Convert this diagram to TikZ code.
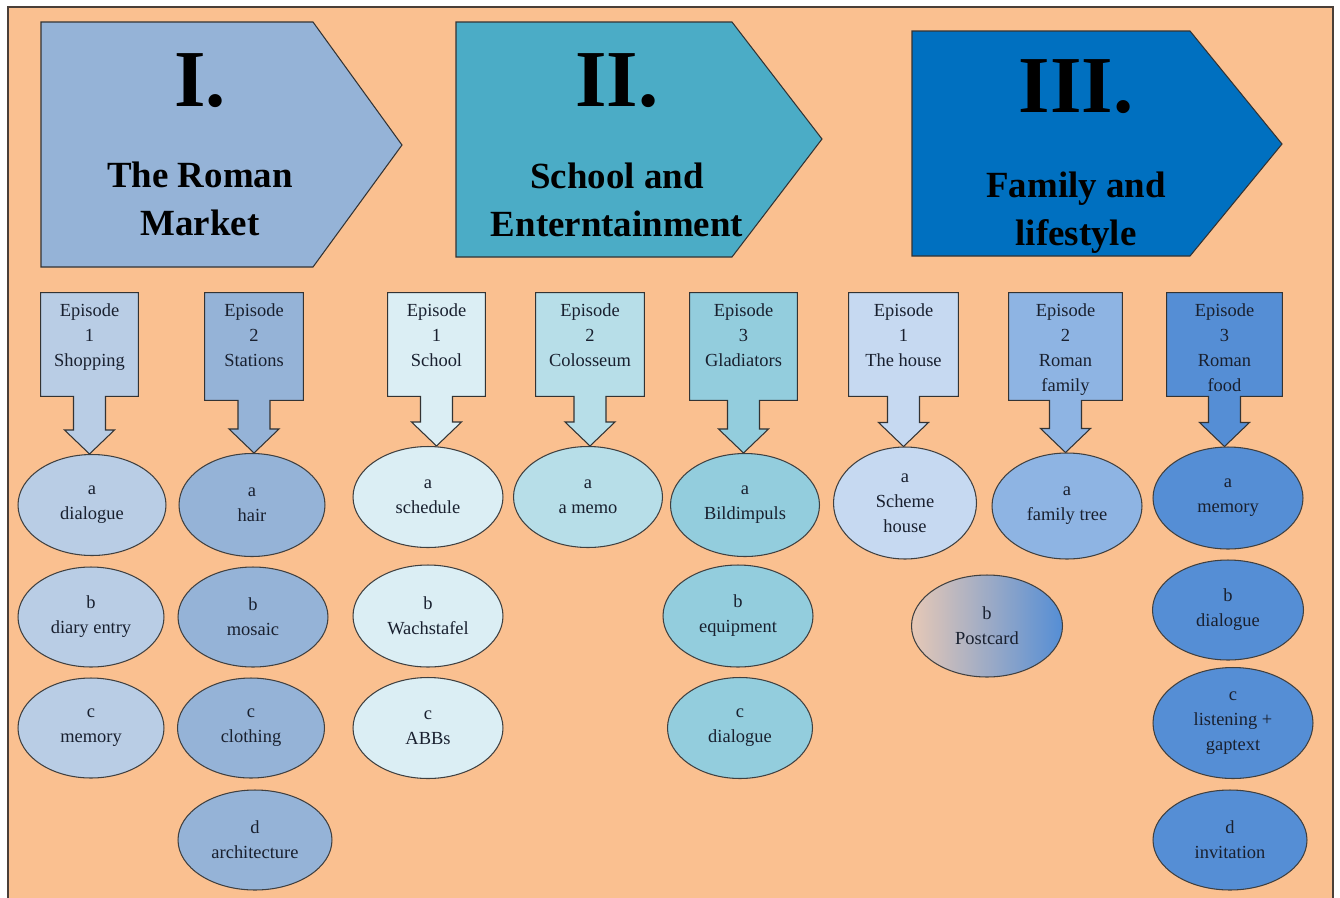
\documentclass[tikz,border=0pt]{standalone}
\usepackage{fontspec}
\setmainfont{Liberation Serif}
\usepackage{tikz}
\usetikzlibrary{positioning,calc,shapes.geometric}

\definecolor{peach}{HTML}{FAC090}
\definecolor{frame}{HTML}{4A3F38}
\definecolor{ink}{HTML}{19202F}
\definecolor{mktA}{HTML}{95B3D7}
\definecolor{schA}{HTML}{4BACC6}
\definecolor{famA}{HTML}{0070C0}
\definecolor{mkt1}{HTML}{B9CDE5}
\definecolor{mkt2}{HTML}{95B3D7}
\definecolor{sch1}{HTML}{DBEEF4}
\definecolor{sch2}{HTML}{B7DEE8}
\definecolor{sch3}{HTML}{93CDDD}
\definecolor{fam1}{HTML}{C6D9F1}
\definecolor{fam2}{HTML}{8EB4E3}
\definecolor{fam3}{HTML}{558ED5}
\definecolor{card}{HTML}{E6C8B6}

\pgfdeclarelayer{bg}
\pgfsetlayers{bg,main}

\tikzset{
  unit/.style={draw=black!80, line width=0.6pt},
  task/.style={ellipse, draw=black!75, line width=0.6pt, inner sep=0pt,
    text=ink, align=center, font=\fontsize{10.5}{14.2}\selectfont},
  epbox/.style={rectangle, inner sep=0pt},
  eptext/.style={text=ink, align=center, inner sep=0pt,
    font=\fontsize{10.5}{14.2}\selectfont},
  numeral/.style={font=\fontsize{46}{46}\bfseries\selectfont},
  topic/.style={align=center, font=\fontsize{21}{27.4}\bfseries\selectfont}
}

\begin{document}
\begin{tikzpicture}[x=0.02cm, y=-0.02cm]
    \useasboundingbox (0,0) rectangle (1340,897);
    % page background
    \begin{pgfonlayer}{bg}
      \fill[white] (0,0) rectangle (1340,897);
      \draw[fill=peach, draw=frame, line width=0.8pt] (8,7) rectangle (1333,905);
    \end{pgfonlayer}

    % the three units
    \draw[unit, fill=mktA] (41,22) -- (313,22) -- (402,145) -- (313,267) -- (41,267) -- cycle;
    \node[numeral] (numI) at (200,81) {I.};
    \node[topic] (topicI) at (200,199) {The Roman\\Market};

    \draw[unit, fill=schA] (456,22) -- (732,22) -- (822,139) -- (732,257) -- (456,257) -- cycle;
    \node[numeral] (numII) at (617,81) {II.};
    \node[topic] (topicII) at (617,200) {School and\\Enterntainment};

    \draw[unit, fill=famA] (912,31) -- (1190,31) -- (1282,144) -- (1190,256) -- (912,256) -- cycle;
    \node[numeral] (numIII) at (1076,87) {III.};
    \node[topic] (topicIII) at (1076,213) {Family and\\lifestyle};

    % episode boxes
    \node[epbox, minimum width=1.94cm, minimum height=2.06cm] (ep1) at (89.5,344.5) {};
    \node[epbox, minimum width=1.96cm, minimum height=2.14cm] (ep2) at (254,346.5) {};
    \node[epbox, minimum width=1.94cm, minimum height=2.06cm] (ep3) at (436.5,344.5) {};
    \node[epbox, minimum width=2.16cm, minimum height=2.06cm] (ep4) at (590,344.5) {};
    \node[epbox, minimum width=2.14cm, minimum height=2.14cm] (ep5) at (743.5,346.5) {};
    \node[epbox, minimum width=2.18cm, minimum height=2.06cm] (ep6) at (903.5,344.5) {};
    \node[epbox, minimum width=2.26cm, minimum height=2.14cm] (ep7) at (1065.5,346.5) {};
    \node[epbox, minimum width=2.30cm, minimum height=2.06cm] (ep8) at (1224.5,344.5) {};

    \node[eptext, below=0.22cm of ep1.north] (ep1t) {Episode\\1\\Shopping};
    \node[eptext, below=0.22cm of ep2.north] (ep2t) {Episode\\2\\Stations};
    \node[eptext, below=0.22cm of ep3.north] (ep3t) {Episode\\1\\School};
    \node[eptext, below=0.22cm of ep4.north] (ep4t) {Episode\\2\\Colosseum};
    \node[eptext, below=0.22cm of ep5.north] (ep5t) {Episode\\3\\Gladiators};
    \node[eptext, below=0.22cm of ep6.north] (ep6t) {Episode\\1\\The house};
    \node[eptext, below=0.22cm of ep7.north] (ep7t) {Episode\\2\\Roman\\family};
    \node[eptext, below=0.22cm of ep8.north] (ep8t) {Episode\\3\\Roman\\food};

    % tasks, unit I
    \node[task, fill=mkt1, minimum width=2.96cm, minimum height=2.02cm] (shop-a) at (92,505) {a\\dialogue};
    \node[task, fill=mkt1, minimum width=2.92cm, minimum height=2.00cm] (shop-b) at (91,617) {b\\diary entry};
    \node[task, fill=mkt1, minimum width=2.92cm, minimum height=2.00cm] (shop-c) at (91,728) {c\\memory};
    \node[task, fill=mkt2, minimum width=2.92cm, minimum height=2.06cm] (stat-a) at (252,505) {a\\hair};
    \node[task, fill=mkt2, minimum width=3.00cm, minimum height=2.00cm] (stat-b) at (253,617) {b\\mosaic};
    \node[task, fill=mkt2, minimum width=2.94cm, minimum height=2.00cm] (stat-c) at (251,728) {c\\clothing};
    \node[task, fill=mkt2, minimum width=3.08cm, minimum height=2.00cm] (stat-d) at (255,840) {d\\architecture};

    % tasks, unit II
    \node[task, fill=sch1, minimum width=3.00cm, minimum height=2.02cm] (schl-a) at (428,497) {a\\schedule};
    \node[task, fill=sch1, minimum width=3.00cm, minimum height=2.04cm] (schl-b) at (428,616) {b\\Wachstafel};
    \node[task, fill=sch1, minimum width=3.00cm, minimum height=2.02cm] (schl-c) at (428,728) {c\\ABBs};
    \node[task, fill=sch2, minimum width=2.98cm, minimum height=2.02cm] (colo-a) at (588,497) {a\\a memo};
    \node[task, fill=sch3, minimum width=2.98cm, minimum height=2.06cm] (glad-a) at (745,505) {a\\Bildimpuls};
    \node[task, fill=sch3, minimum width=3.00cm, minimum height=2.04cm] (glad-b) at (738,616) {b\\equipment};
    \node[task, fill=sch3, minimum width=2.90cm, minimum height=2.02cm] (glad-c) at (740,728) {c\\dialogue};

    % tasks, unit III
    \node[task, fill=fam1, minimum width=2.86cm, minimum height=2.24cm] (house-a) at (905,503) {a\\Scheme\\house};
    \node[task, left color=card, middle color=fam1!70!card, right color=fam3,
          minimum width=3.02cm, minimum height=2.04cm] (house-b) at (987,626) {b\\Postcard};
    \node[task, fill=fam2, minimum width=3.00cm, minimum height=2.12cm] (fmly-a) at (1067,506) {a\\family tree};
    \node[task, fill=fam3, minimum width=3.00cm, minimum height=2.04cm] (food-a) at (1228,498) {a\\memory};
    \node[task, fill=fam3, minimum width=3.02cm, minimum height=2.00cm] (food-b) at (1228,610) {b\\dialogue};
    \node[task, fill=fam3, minimum width=3.20cm, minimum height=2.22cm] (food-c) at (1233,723) {c\\listening +\\gaptext};
    \node[task, fill=fam3, minimum width=3.08cm, minimum height=2.00cm] (food-d) at (1230,840) {d\\invitation};

    % callout outlines, box plus arrow down to the first task
    \begin{pgfonlayer}{bg}
    \foreach \b/\e/\c in {ep1/shop-a/mkt1, ep2/stat-a/mkt2, ep3/schl-a/sch1, ep4/colo-a/sch2,
                          ep5/glad-a/sch3, ep6/house-a/fam1, ep7/fmly-a/fam2, ep8/food-a/fam3}
      \draw[unit, fill=\c] (\b.north west) -- (\b.north east) -- (\b.south east)
        -- ($(\b.south)+(16,0)$) -- ($(\b.south |- \e.north)+(16,-24)$)
        -- ($(\b.south |- \e.north)+(25,-24)$) -- (\b.south |- \e.north)
        -- ($(\b.south |- \e.north)+(-25,-24)$) -- ($(\b.south |- \e.north)+(-16,-24)$)
        -- ($(\b.south)+(-16,0)$) -- (\b.south west) -- cycle;
    \end{pgfonlayer}
\end{tikzpicture}
\end{document}
